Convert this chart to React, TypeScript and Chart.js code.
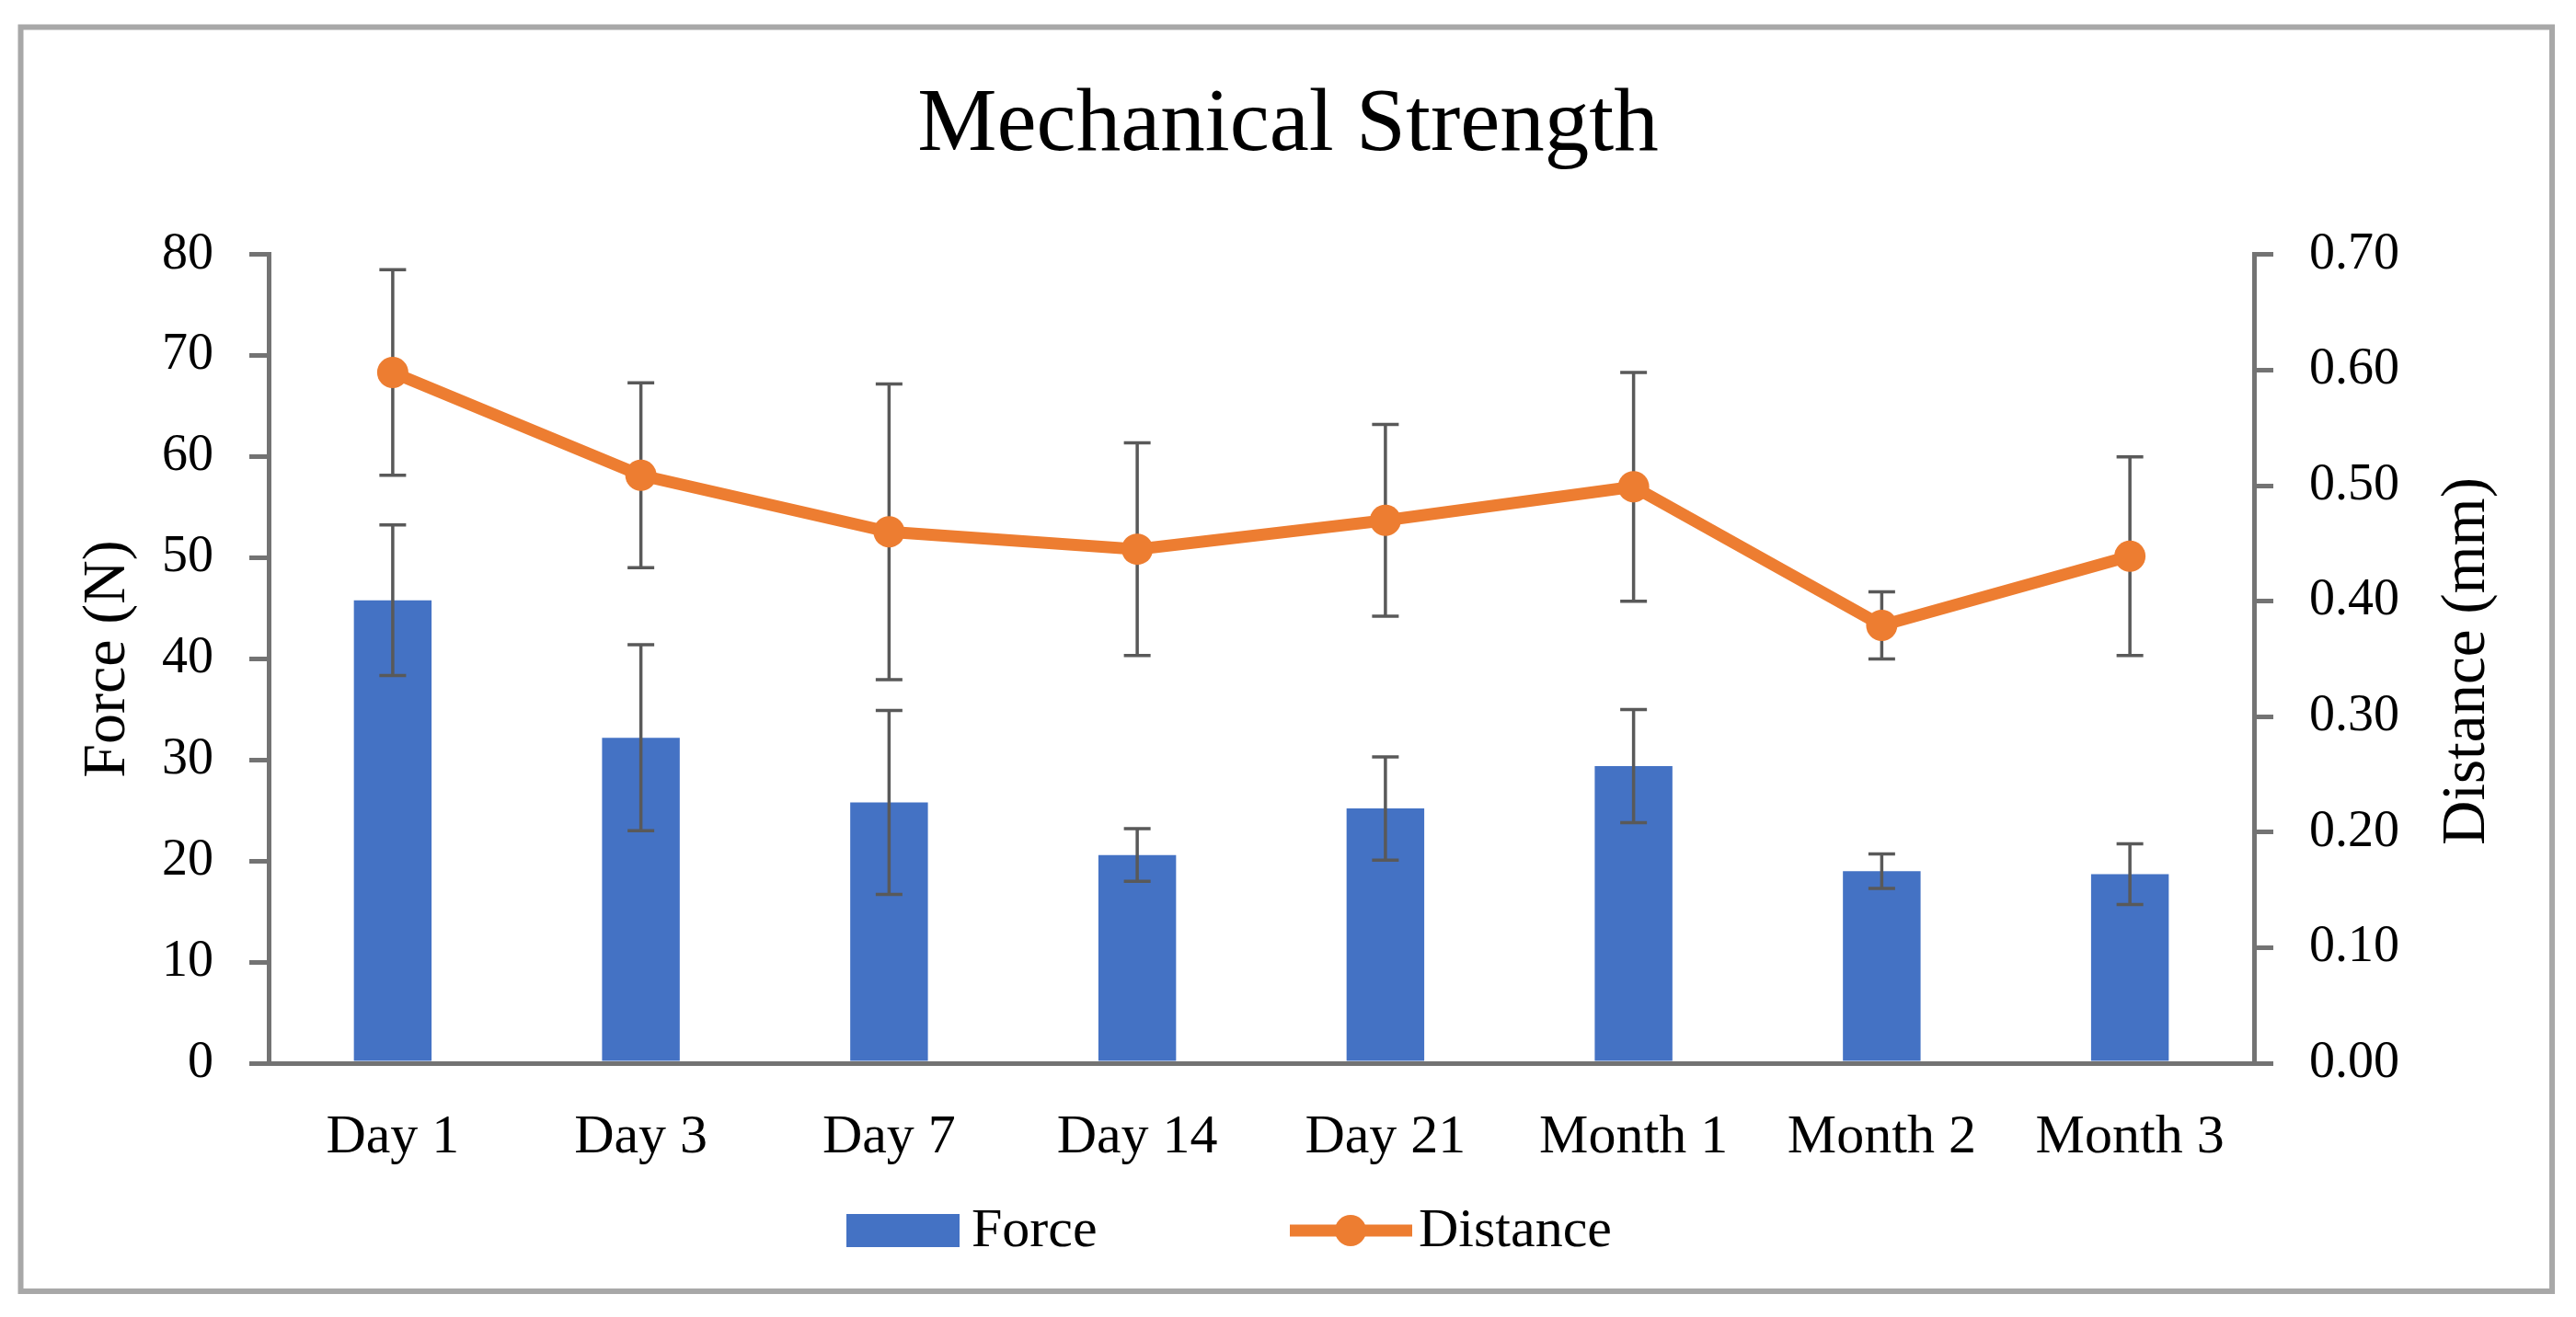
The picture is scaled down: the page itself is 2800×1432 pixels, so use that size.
import { useEffect, useRef } from 'react';
import { Chart, registerables } from 'chart.js';

Chart.register(...registerables);

// Chart data
const categories = ['Day 1', 'Day 3', 'Day 7', 'Day 14', 'Day 21', 'Month 1', 'Month 2', 'Month 3'];
const forceValues = [45.8, 32.2, 25.8, 20.6, 25.2, 29.4, 19.0, 18.7];
const forceErrors = [7.45, 9.2, 9.1, 2.6, 5.1, 5.6, 1.7, 3.0];
const distanceValues = [0.598, 0.509, 0.46, 0.445, 0.47, 0.499, 0.379, 0.439];
const distanceErrors = [0.089, 0.08, 0.128, 0.092, 0.083, 0.099, 0.029, 0.086];
const forceTicks = [0, 10, 20, 30, 40, 50, 60, 70, 80];
const distanceTicks = [0, 0.1, 0.2, 0.3, 0.4, 0.5, 0.6, 0.7];

const FONT = "'Liberation Serif', 'Times New Roman', serif";
const BLUE = '#4472C4';
const ORANGE = '#ED7D31';
const AXIS = '#737373';
const ERR = '#595959';

// white background + grey frame round the whole figure
const framePlugin = {
  id: 'frame',
  beforeDraw(chart: any) {
    const { ctx, width, height } = chart;
    ctx.save();
    ctx.fillStyle = '#fff';
    ctx.fillRect(0, 0, width, height);
    ctx.strokeStyle = '#a8a8a8';
    ctx.lineWidth = 6;
    ctx.strokeRect(22.5, 29.5, 2751.5, 1374.5);
    ctx.restore();
  },
};

// error bars, drawn right after the bars so the line sits on top
const errorBarPlugin = {
  id: 'errorBars',
  afterDatasetDraw(chart: any, args: any) {
    if (args.index !== 0) return;
    const { ctx } = chart;
    const x = chart.scales.x;
    const y = chart.scales.y;
    const y1 = chart.scales.y1;
    const cap = 14.5;
    const draw = (px: number, top: number, bottom: number) => {
      ctx.beginPath();
      ctx.moveTo(px, top);
      ctx.lineTo(px, bottom);
      ctx.moveTo(px - cap, top);
      ctx.lineTo(px + cap, top);
      ctx.moveTo(px - cap, bottom);
      ctx.lineTo(px + cap, bottom);
      ctx.stroke();
    };
    ctx.save();
    ctx.strokeStyle = ERR;
    ctx.lineWidth = 3.5;
    categories.forEach((_, i) => {
      const px = x.getPixelForValue(i);
      draw(px, y.getPixelForValue(forceValues[i] + forceErrors[i]), y.getPixelForValue(forceValues[i] - forceErrors[i]));
      draw(
        px,
        y1.getPixelForValue(distanceValues[i] + distanceErrors[i]),
        y1.getPixelForValue(distanceValues[i] - distanceErrors[i])
      );
    });
    ctx.restore();
  },
};

// right axis title (reads bottom to top like the left one) and the Excel style legend
const extrasPlugin = {
  id: 'extras',
  afterDraw(chart: any) {
    const { ctx } = chart;
    ctx.save();
    ctx.fillStyle = '#000';
    ctx.font = `67px ${FONT}`;
    ctx.textAlign = 'center';
    ctx.textBaseline = 'alphabetic';
    ctx.translate(2700, 719);
    ctx.rotate(-Math.PI / 2);
    ctx.fillText('Distance (mm)', 0, 0);
    ctx.restore();

    ctx.save();
    ctx.fillStyle = BLUE;
    ctx.fillRect(920, 1320, 123, 36);
    ctx.strokeStyle = ORANGE;
    ctx.lineWidth = 13;
    ctx.beginPath();
    ctx.moveTo(1402, 1338);
    ctx.lineTo(1535, 1338);
    ctx.stroke();
    ctx.fillStyle = ORANGE;
    ctx.beginPath();
    ctx.arc(1468, 1338, 17, 0, Math.PI * 2);
    ctx.fill();
    ctx.fillStyle = '#000';
    ctx.font = `60px ${FONT}`;
    ctx.textAlign = 'left';
    ctx.textBaseline = 'alphabetic';
    ctx.fillText('Force', 1056, 1355);
    ctx.fillText('Distance', 1542, 1355);
    ctx.restore();
  },
};

export default function App() {
  const canvasRef = useRef<HTMLCanvasElement>(null);

  useEffect(() => {
    if (!canvasRef.current) return;
    const chart = new Chart(canvasRef.current, {
      type: 'bar',
      data: {
        labels: categories,
        datasets: [
          {
            type: 'bar',
            label: 'Force',
            data: forceValues,
            backgroundColor: BLUE,
            yAxisID: 'y',
            order: 1,
            categoryPercentage: 1,
            barPercentage: 0.313,
          },
          {
            type: 'line',
            label: 'Distance',
            data: distanceValues,
            borderColor: ORANGE,
            backgroundColor: ORANGE,
            borderWidth: 13,
            pointRadius: 17,
            pointBorderWidth: 0,
            pointBackgroundColor: ORANGE,
            tension: 0,
            yAxisID: 'y1',
            order: 0,
          },
        ],
      },
      options: {
        animation: false,
        responsive: true,
        maintainAspectRatio: false,
        devicePixelRatio: 1,
        layout: { padding: 0 },
        plugins: {
          legend: { display: false },
          tooltip: { enabled: false },
          title: {
            display: true,
            text: 'Mechanical Strength',
            color: '#000',
            font: { family: FONT, size: 97, weight: 'normal' },
            padding: { top: 79, bottom: 81.5 },
          },
        },
        scales: {
          x: {
            type: 'category',
            offset: true,
            grid: { display: false, drawTicks: false },
            border: { display: true, color: AXIS, width: 5, z: 1 },
            ticks: { color: '#000', font: { family: FONT, size: 60 }, padding: 45, maxRotation: 0 },
            afterFit: (scale: any) => {
              scale.height = 276;
            },
          },
          y: {
            type: 'linear',
            position: 'left',
            min: 0,
            max: 80,
            afterBuildTicks: (scale: any) => {
              scale.ticks = forceTicks.map((v) => ({ value: v }));
            },
            grid: { drawOnChartArea: false, drawTicks: true, tickLength: 21, color: AXIS, lineWidth: 5 },
            border: { display: true, color: AXIS, width: 5, z: 1 },
            ticks: { color: '#000', font: { family: FONT, size: 56 }, padding: 39 },
            title: {
              display: true,
              text: 'Force (N)',
              color: '#000',
              font: { family: FONT, size: 66 },
              padding: { top: 78, bottom: 0 },
            },
            afterFit: (scale: any) => {
              scale.width = 292;
            },
          },
          y1: {
            type: 'linear',
            position: 'right',
            min: 0,
            max: 0.7,
            afterBuildTicks: (scale: any) => {
              scale.ticks = distanceTicks.map((v) => ({ value: v }));
            },
            grid: { drawOnChartArea: false, drawTicks: true, tickLength: 21, color: AXIS, lineWidth: 5 },
            border: { display: true, color: AXIS, width: 5, z: 1 },
            ticks: {
              color: '#000',
              font: { family: FONT, size: 56 },
              padding: 39,
              callback: (v: any) => Number(v).toFixed(2),
            },
            afterFit: (scale: any) => {
              scale.width = 350;
            },
          },
        },
      },
      plugins: [framePlugin, errorBarPlugin, extrasPlugin],
    });
    return () => chart.destroy();
  }, []);

  return (
    <div style={{ position: 'fixed', left: 0, top: 0, width: 2800, height: 1432, background: '#fff' }}>
      <canvas ref={canvasRef} />
    </div>
  );
}
